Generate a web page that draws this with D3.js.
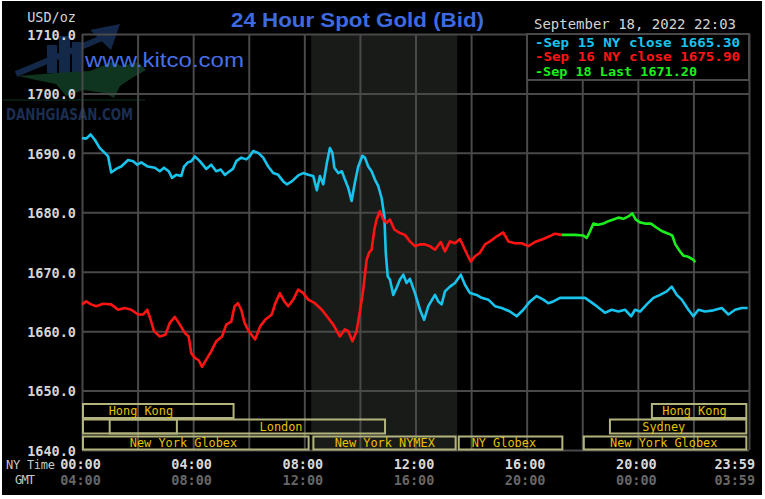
<!DOCTYPE html>
<html>
<head>
<meta charset="utf-8">
<script src="https://cdn.jsdelivr.net/npm/d3@7"></script>
<style>
html,body{margin:0;padding:0;background:#fff;}
svg{display:block;}
</style>
</head>
<body>
<svg id="chart" width="765" height="499"></svg>
<script>
// ---------------- DATA ----------------
const titleText = "24 Hour Spot Gold (Bid)";
const dateText = "September 18, 2022 22:03";
const unitText = "USD/oz";
const yTicks = [1640, 1650, 1660, 1670, 1680, 1690, 1700, 1710];
const gridHours = [0, 2, 4, 6, 8, 10, 12, 14, 16, 18, 20, 22, 24];
const nyTickHours = [0, 4, 8, 12, 16, 20, 23.983];
const nyTickLabels = ["00:00", "04:00", "08:00", "12:00", "16:00", "20:00", "23:59"];
const gmtTickLabels = ["04:00", "08:00", "12:00", "16:00", "20:00", "00:00", "03:59"];
const legendLabels = ["-Sep 15 NY close 1665.30", "-Sep 16 NY close 1675.90", "-Sep 18 Last 1671.20"];
const nymexHours = [8.25, 13.5];

// Sep 15 (cyan) [hour NY time, price]
const sep15 = [
[0.00,1692.5],[0.15,1692.4],[0.31,1693.1],[0.46,1692.2],[0.64,1690.8],[0.82,1690.0],[0.94,1689.4],
[1.05,1686.7],[1.23,1687.3],[1.41,1687.7],[1.66,1688.8],[1.84,1688.6],[1.99,1688.0],[2.13,1688.4],
[2.37,1687.7],[2.62,1687.5],[2.80,1686.9],[2.95,1687.5],[3.12,1686.9],[3.24,1685.8],[3.39,1686.3],
[3.57,1686.1],[3.67,1687.7],[3.81,1688.4],[3.93,1688.6],[4.06,1689.4],[4.24,1688.6],[4.47,1687.3],
[4.65,1688.0],[4.83,1686.9],[4.99,1687.2],[5.14,1686.3],[5.31,1686.9],[5.43,1687.3],[5.55,1688.6],
[5.73,1689.2],[5.91,1688.9],[6.03,1689.4],[6.16,1690.3],[6.34,1690.0],[6.52,1689.2],[6.70,1687.7],
[6.88,1686.6],[7.06,1686.3],[7.24,1685.2],[7.37,1684.7],[7.55,1685.2],[7.78,1686.2],[7.96,1686.6],
[8.14,1686.3],[8.32,1686.1],[8.45,1683.7],[8.56,1686.1],[8.68,1684.7],[8.81,1688.3],[8.92,1690.8],
[9.01,1690.0],[9.08,1687.5],[9.22,1686.6],[9.35,1686.9],[9.46,1685.5],[9.58,1684.1],[9.70,1681.9],
[9.82,1685.0],[9.94,1687.7],[10.09,1689.5],[10.18,1689.2],[10.30,1687.7],[10.42,1686.9],[10.54,1685.5],
[10.66,1684.4],[10.78,1682.4],[10.88,1679.3],[10.93,1673.2],[11.00,1669.2],[11.08,1668.7],[11.20,1666.1],
[11.32,1667.3],[11.44,1668.7],[11.56,1669.5],[11.68,1668.1],[11.80,1668.8],[11.98,1666.4],[12.16,1663.6],
[12.31,1661.9],[12.46,1664.2],[12.70,1666.1],[12.82,1665.0],[12.94,1664.5],[13.06,1666.7],[13.24,1667.5],
[13.42,1668.1],[13.63,1669.5],[13.78,1667.8],[13.96,1666.4],[14.20,1666.1],[14.38,1665.6],[14.62,1665.3],
[14.86,1664.2],[15.10,1663.9],[15.40,1663.3],[15.64,1662.5],[15.88,1663.6],[16.12,1665.0],[16.36,1665.9],
[16.60,1665.3],[16.78,1664.7],[16.96,1665.0],[17.20,1665.6],[17.56,1665.6],[18.10,1665.6],[18.28,1665.0],
[18.52,1664.2],[18.82,1663.1],[19.06,1663.6],[19.30,1663.3],[19.54,1663.6],[19.76,1662.5],[19.90,1663.6],
[20.08,1663.3],[20.32,1664.5],[20.56,1665.6],[20.80,1666.1],[21.04,1666.7],[21.22,1667.5],[21.40,1666.1],
[21.58,1665.3],[21.82,1663.6],[22.00,1662.5],[22.18,1663.6],[22.42,1663.3],[22.72,1663.5],[23.02,1663.9],
[23.26,1662.8],[23.50,1663.6],[23.74,1663.9],[23.95,1663.9]
];

// Sep 16 (red)
const sep16 = [
[0.00,1664.5],[0.15,1665.0],[0.33,1664.5],[0.51,1664.2],[0.76,1664.6],[1.05,1664.5],[1.30,1663.6],
[1.54,1663.9],[1.77,1663.6],[2.02,1662.8],[2.20,1662.8],[2.35,1663.6],[2.47,1661.9],[2.59,1660.0],
[2.80,1659.1],[3.00,1659.4],[3.16,1661.4],[3.34,1662.4],[3.52,1661.1],[3.70,1659.7],[3.84,1659.1],
[3.93,1656.3],[4.06,1655.5],[4.20,1655.1],[4.32,1654.0],[4.47,1655.2],[4.65,1656.6],[4.83,1658.3],
[5.04,1659.1],[5.19,1661.1],[5.37,1661.6],[5.49,1664.2],[5.61,1664.7],[5.73,1663.6],[5.85,1661.4],
[6.00,1660.0],[6.05,1659.7],[6.23,1658.6],[6.41,1660.8],[6.59,1661.9],[6.83,1662.8],[6.94,1664.5],
[7.12,1666.4],[7.28,1665.0],[7.42,1664.2],[7.60,1665.3],[7.78,1667.0],[7.96,1666.4],[8.14,1665.3],
[8.38,1664.7],[8.63,1663.6],[8.86,1662.2],[9.04,1661.1],[9.28,1659.1],[9.46,1660.3],[9.58,1660.0],
[9.73,1658.3],[9.88,1660.0],[10.00,1663.3],[10.12,1667.0],[10.24,1672.0],[10.33,1673.2],[10.42,1673.7],
[10.52,1677.1],[10.60,1678.8],[10.72,1680.2],[10.84,1678.8],[10.96,1678.2],[11.08,1678.8],[11.24,1677.1],
[11.44,1676.5],[11.62,1676.2],[11.80,1675.1],[11.98,1674.3],[12.16,1674.6],[12.34,1674.6],[12.52,1674.3],
[12.70,1673.7],[12.91,1675.0],[13.06,1673.4],[13.24,1675.1],[13.42,1674.8],[13.60,1675.5],[13.75,1674.0],
[13.86,1672.9],[13.99,1671.7],[14.14,1672.6],[14.32,1673.2],[14.50,1674.6],[14.68,1675.1],[14.94,1676.0],
[15.16,1676.6],[15.34,1675.1],[15.58,1674.8],[15.82,1674.8],[16.06,1674.3],[16.30,1675.0],[16.60,1675.5],
[16.84,1676.0],[17.02,1676.4],[17.26,1676.2]
];

// Sep 18 (green)
const sep18 = [
[17.26,1676.2],[17.74,1676.2],[18.04,1676.1],[18.16,1675.7],[18.28,1676.8],[18.40,1678.1],[18.58,1677.9],
[18.76,1678.1],[18.94,1678.5],[19.12,1678.8],[19.30,1679.1],[19.48,1678.9],[19.66,1679.3],[19.80,1679.8],
[19.92,1678.8],[20.08,1678.3],[20.26,1678.1],[20.47,1678.1],[20.68,1677.4],[20.88,1676.8],[21.10,1676.4],
[21.24,1676.1],[21.35,1674.6],[21.52,1673.4],[21.64,1672.7],[21.82,1672.5],[22.00,1672.0],[22.06,1671.6]
];

// trading sessions (row 0 top, row 2 bottom), hours NY time
const sessionLabels = ["Hong Kong", "London", "", "New York Globex", "New York NYMEX", "NY Globex", "New York Globex", "Sydney", "Hong Kong"];
const sessionRows   = [0, 1, 1, 2, 2, 2, 2, 1, 0];
const sessionStart  = [0, 0, 0.96, 0, 8.29, 13.52, 18.02, 18.96, 20.47];
const sessionEnd    = [5.49, 10.94, 3.45, 8.19, 13.48, 17.32, 23.94, 23.94, 23.94];
const sessionTextAt = [0.96, 6.39, 0, 1.72, 9.09, 14.02, 19.0, 20.16, 20.88];

// ---------------- DRAW ----------------
const svg = d3.select("#chart");
const pL = 82, pR = 749, pT = 34, pB = 450;
const x = d3.scaleLinear().domain([0, 24]).range([pL, pR]);
const y = d3.scaleLinear().domain([1640, 1710]).range([pB, pT]);
const mono = "'DejaVu Sans Mono', monospace";
const gridColor = "#494949";

svg.append("rect").attr("x", 2).attr("y", 1).attr("width", 760).attr("height", 494).attr("fill", "#000");

// NYMEX shading
svg.append("rect")
  .attr("x", x(nymexHours[0])).attr("y", pT)
  .attr("width", x(nymexHours[1]) - x(nymexHours[0])).attr("height", pB - pT)
  .attr("fill", "#191b19");

// watermark logo (approximate, behind the grid)
const wm = svg.append("g");
const navy = "#14284a", dgreen = "#0f3520";
wm.append("rect").attr("x", 47).attr("y", 45).attr("width", 10).attr("height", 28).attr("fill", navy);
wm.append("rect").attr("x", 59).attr("y", 36).attr("width", 11).attr("height", 37).attr("fill", navy);
wm.append("rect").attr("x", 72).attr("y", 42).attr("width", 10).attr("height", 31).attr("fill", navy);
wm.append("line").attr("x1", 16).attr("y1", 74).attr("x2", 102).attr("y2", 38)
  .attr("stroke", navy).attr("stroke-width", 6);
wm.append("polygon").attr("points", "90,30 120,24 111,50").attr("fill", navy);
wm.append("polygon")
  .attr("points", "18,76 55,73 90,71 112,62 122,66 138,62 146,70 132,78 120,86 114,98 104,93 84,90 66,96 56,84 36,80")
  .attr("fill", dgreen);
wm.append("line").attr("x1", 2).attr("y1", 100).attr("x2", 145).attr("y2", 100)
  .attr("stroke", dgreen).attr("stroke-width", 1.2);
wm.append("text").attr("x", 6).attr("y", 120).text("DANHGIASAN.COM")
  .attr("font-family", "'DejaVu Sans Condensed', 'DejaVu Sans', sans-serif").attr("font-weight", "bold")
  .attr("font-size", 16).attr("textLength", 127).attr("lengthAdjust", "spacingAndGlyphs")
  .attr("fill", "#1b2e52");

// horizontal gridlines + y labels via axis
const yAxis = d3.axisLeft(y).tickValues(yTicks).tickSize(-(pR - pL)).tickPadding(6)
  .tickFormat(d => d.toFixed(1));
const yg = svg.append("g").attr("transform", `translate(${pL},0)`).call(yAxis);
yg.select(".domain").remove();
yg.selectAll(".tick line").attr("stroke", gridColor).attr("stroke-width", 2);
yg.selectAll(".tick text").attr("fill", "#d4d4d4").attr("font-family", mono)
  .attr("font-weight", "bold").attr("font-size", 13.5).attr("dy", "0.4em");

// vertical gridlines
const xg = svg.append("g").attr("transform", `translate(0,${pB})`)
  .call(d3.axisBottom(x).tickValues(gridHours).tickSize(-(pB - pT)).tickFormat(""));
xg.select(".domain").remove();
xg.selectAll(".tick line").attr("stroke", gridColor).attr("stroke-width", 2);

// session boxes
const rowTop = [404, 419.5, 436.5];
const rowH = [14, 14, 13];
const rowBase = [414.5, 430.5, 446.5];
const sessions = sessionLabels.map((s, i) => ({label: s, row: sessionRows[i], s: sessionStart[i], e: sessionEnd[i], t: sessionTextAt[i]}));
const sg = svg.append("g");
sg.selectAll("rect").data(sessions).join("rect")
  .attr("x", d => x(d.s) + 1).attr("y", d => rowTop[d.row])
  .attr("width", d => x(d.e) - x(d.s) - 2).attr("height", d => rowH[d.row])
  .attr("fill", "none").attr("stroke", "#b3b37d").attr("stroke-width", 2);
sg.selectAll("text").data(sessions.filter(d => d.label)).join("text")
  .attr("x", d => x(d.t)).attr("y", d => rowBase[d.row]).text(d => d.label)
  .attr("font-family", mono).attr("font-size", 11.9).attr("fill", "#e8c000");

// series lines
const line = d3.line().x(d => x(d[0])).y(d => y(d[1]));
const seriesData = [sep15, sep16, sep18];
const seriesColors = ["#18c4ee", "#ff1414", "#1cf01c"];
svg.append("g").selectAll("path").data(seriesData).join("path")
  .attr("d", line).attr("fill", "none")
  .attr("stroke", (d, i) => seriesColors[i]).attr("stroke-width", 2.6)
  .attr("stroke-linejoin", "round");

// kitco text
svg.append("text").attr("x", 85).attr("y", 67).text("www.kitco.com")
  .attr("font-family", "'Liberation Sans', Arial, sans-serif").attr("font-size", 21)
  .attr("textLength", 159).attr("lengthAdjust", "spacingAndGlyphs").attr("fill", "#466fe6");

// legend box
svg.append("rect").attr("x", 527).attr("y", pT).attr("width", pR - 527).attr("height", 46)
  .attr("fill", "#000").attr("stroke", gridColor).attr("stroke-width", 2);
svg.append("g").selectAll("text").data(legendLabels).join("text")
  .attr("x", 535).attr("y", (d, i) => 46.5 + i * 14.7).text(d => d)
  .attr("font-family", mono).attr("font-weight", "bold").attr("font-size", 13)
  .attr("textLength", (d, i) => [205, 205, 162][i]).attr("lengthAdjust", "spacingAndGlyphs")
  .attr("fill", (d, i) => seriesColors[i]);

// title and header
svg.append("text").attr("x", 231).attr("y", 27).text(titleText)
  .attr("font-family", "'Liberation Sans', Arial, sans-serif").attr("font-weight", "bold")
  .attr("font-size", 20).attr("textLength", 253).attr("lengthAdjust", "spacingAndGlyphs")
  .attr("fill", "#3e6ae0");
svg.append("text").attr("x", 534).attr("y", 29).text(dateText)
  .attr("font-family", mono).attr("font-size", 13.5).attr("textLength", 202)
  .attr("lengthAdjust", "spacingAndGlyphs").attr("fill", "#d4d4d4");
svg.append("text").attr("x", 76).attr("y", 21.5).attr("text-anchor", "end").text(unitText)
  .attr("font-family", mono).attr("font-size", 13.5).attr("fill", "#d4d4d4");

// x labels (NY time and GMT)
const xl = svg.append("g");
function tickRow(labels, yy, color) {
  const ax = d3.axisBottom(x).tickValues(nyTickHours).tickSize(0).tickPadding(0)
    .tickFormat((d, i) => labels[i]);
  const g = xl.append("g").attr("transform", `translate(0,${yy})`).call(ax);
  g.select(".domain").remove();
  g.selectAll(".tick text").attr("y", 0).attr("dy", 0)
    .attr("font-family", mono).attr("font-weight", "bold").attr("font-size", 13.5).attr("fill", color)
    .attr("dx", (d, i) => i === labels.length - 1 ? 6 : -2)
    .attr("text-anchor", (d, i) => i === labels.length - 1 ? "end" : "middle");
}
tickRow(nyTickLabels, 469, "#d8d8d8");
tickRow(gmtTickLabels, 485, "#666666");
svg.append("text").attr("x", 6).attr("y", 469).text("NY Time")
  .attr("font-family", mono).attr("font-size", 12).attr("textLength", 49)
  .attr("fill", "#c8c8c8");
svg.append("text").attr("x", 15).attr("y", 484).text("GMT")
  .attr("font-family", mono).attr("font-size", 12).attr("textLength", 20)
  .attr("fill", "#c8c8c8");
</script>
</body>
</html>
